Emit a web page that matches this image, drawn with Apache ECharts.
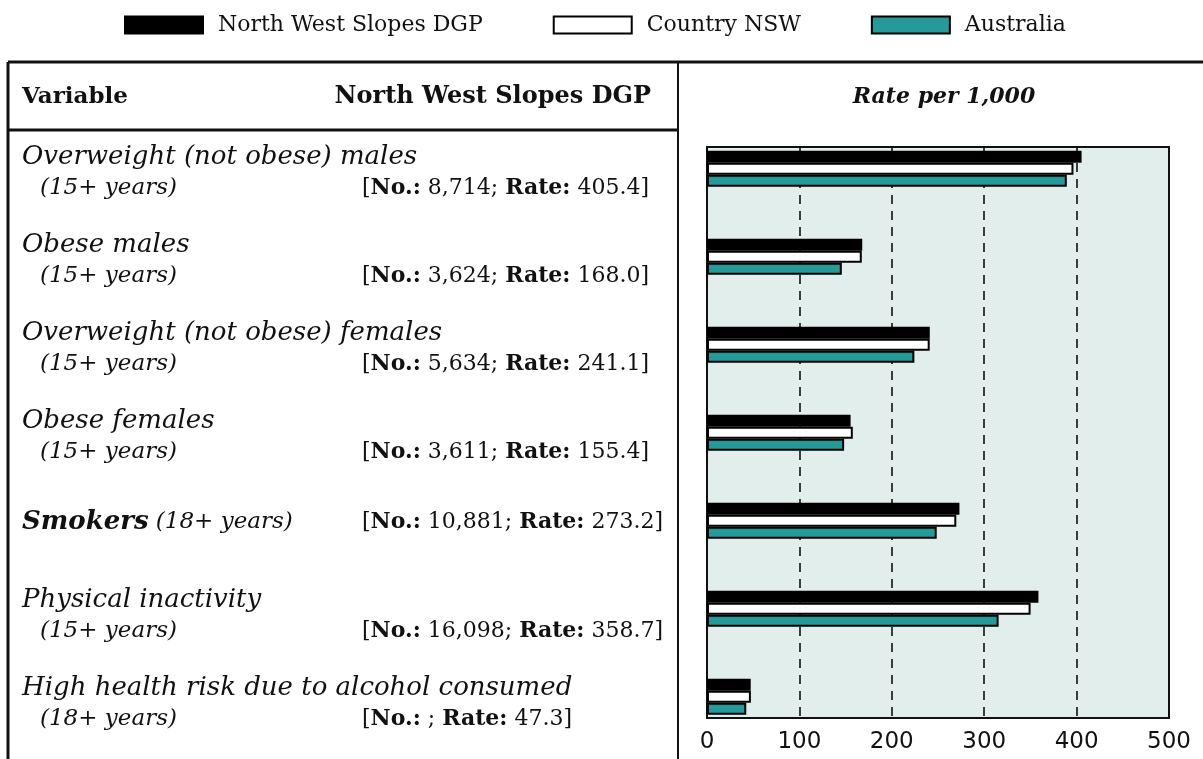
<!DOCTYPE html>
<html>
<head>
<meta charset="utf-8">
<title>Risk factors - North West Slopes DGP</title>
<script src="https://cdn.jsdelivr.net/npm/echarts@6/dist/echarts.min.js"></script>
<style>
  html, body { margin: 0; padding: 0; background: #fff; }
  #chart { width: 1203px; height: 759px; }
</style>
</head>
<body>
<div id="chart"></div>
<script>
// data
const variables = [
  'Overweight (not obese) males',
  'Obese males',
  'Overweight (not obese) females',
  'Obese females',
  'Smokers',
  'Physical inactivity',
  'High health risk due to alcohol consumed'
];
const ageGroups = ['(15+ years)', '(15+ years)', '(15+ years)', '(15+ years)', '(18+ years)', '(15+ years)', '(18+ years)'];
const counts = ['8,714', '3,624', '5,634', '3,611', '10,881', '16,098', ''];
const seriesNames = ['North West Slopes DGP', 'Country NSW', 'Australia'];
const northWestSlopes = [405.4, 168.0, 241.1, 155.4, 273.2, 358.7, 47.3];
const countryNSW = [396.6, 167.5, 241.0, 157.8, 269.8, 350.2, 47.5];
const australia = [389.4, 145.9, 224.4, 148.4, 248.6, 315.6, 42.5];
const xTicks = [0, 100, 200, 300, 400, 500];

const serif = '"DejaVu Serif", serif';
const ink = '#111';

// row layout of the table on the left
const nameY = [157, 245, 333, 421, 522, 600, 688];
const subY = [188, 276, 364, 452, 522, 631, 719];

const graphics = [];
// table lines
const line = (x1, y1, x2, y2, w) => graphics.push({
  type: 'line', shape: { x1, y1, x2, y2 }, style: { stroke: ink, lineWidth: w }, z: 10
});
line(8, 62, 1203, 62, 3);
line(8, 62, 8, 759, 3);
line(8, 130, 678, 130, 3);
line(678, 62, 678, 759, 2);

// headers
graphics.push({ type: 'text', x: 22, y: 97, style: { text: 'Variable', font: 'bold 23px ' + serif, fill: ink, verticalAlign: 'middle' } });
graphics.push({ type: 'text', x: 651, y: 97, style: { text: 'North West Slopes DGP', font: 'bold 24px ' + serif, fill: ink, align: 'right', verticalAlign: 'middle' } });
graphics.push({ type: 'text', x: 944, y: 97, style: { text: 'Rate per 1,000', font: 'italic bold 22px ' + serif, fill: ink, align: 'center', verticalAlign: 'middle' } });

const richBits = {
  n: { font: '22px ' + serif, fill: ink },
  b: { font: 'bold 22px ' + serif, fill: ink },
  nb: { font: 'italic bold 26px ' + serif, fill: ink },
  ag: { font: 'italic 23px ' + serif, fill: ink }
};

variables.forEach((v, i) => {
  if (v === 'Smokers') {
    graphics.push({ type: 'text', x: 22, y: nameY[i], style: {
      text: '{nb|' + v + '}{ag| ' + ageGroups[i] + '}', rich: richBits, verticalAlign: 'middle' } });
  } else {
    graphics.push({ type: 'text', x: 22, y: nameY[i], style: {
      text: v, font: 'italic 26px ' + serif, fill: ink, verticalAlign: 'middle' } });
    graphics.push({ type: 'text', x: 40, y: subY[i], style: {
      text: ageGroups[i], font: 'italic 23px ' + serif, fill: ink, verticalAlign: 'middle' } });
  }
  graphics.push({ type: 'text', x: 362, y: subY[i], style: {
    text: '{n|[}{b|No.:}{n| ' + counts[i] + '; }{b|Rate:}{n| ' + northWestSlopes[i].toFixed(1) + ']}',
    rich: richBits, verticalAlign: 'middle' } });
});

const barStyle = (color) => ({ color: color, borderColor: '#000', borderWidth: 2 });

const option = {
  animation: false,
  backgroundColor: '#fff',
  legend: {
    top: 9,
    left: 119,
    icon: 'rect',
    itemWidth: 78,
    itemHeight: 17,
    itemGap: 70,
    data: seriesNames,
    textStyle: { fontFamily: serif, fontSize: 22, color: ink, padding: [0, 0, 0, 10] }
  },
  grid: [
    // frame, dashed lines and tick labels
    { left: 707, width: 462, top: 147, height: 571, show: true,
      backgroundColor: '#e2eeeb', borderColor: ink, borderWidth: 2 },
    // bars
    { left: 707, width: 462, top: 124.7, height: 616, show: false }
  ],
  xAxis: [
    { gridIndex: 0, type: 'value', min: xTicks[0], max: xTicks[xTicks.length - 1], interval: xTicks[1] - xTicks[0],
      axisLine: { show: false }, axisTick: { show: false },
      axisLabel: { fontFamily: '"DejaVu Sans", sans-serif', fontSize: 23, color: ink, margin: 13 },
      splitLine: { show: true, lineStyle: { color: '#111', width: 1.6, type: [9, 7] } } },
    { gridIndex: 1, type: 'value', min: xTicks[0], max: xTicks[xTicks.length - 1], show: false }
  ],
  yAxis: [
    { gridIndex: 0, type: 'category', data: variables, show: false },
    { gridIndex: 1, type: 'category', data: variables, inverse: true, show: false }
  ],
  series: [
    { name: seriesNames[0], type: 'bar', xAxisIndex: 1, yAxisIndex: 1, data: northWestSlopes,
      barWidth: 12, barGap: '0%', itemStyle: barStyle('#000') },
    { name: seriesNames[1], type: 'bar', xAxisIndex: 1, yAxisIndex: 1, data: countryNSW,
      barWidth: 12, barGap: '0%', itemStyle: barStyle('#fff') },
    { name: seriesNames[2], type: 'bar', xAxisIndex: 1, yAxisIndex: 1, data: australia,
      barWidth: 12, barGap: '0%', itemStyle: barStyle('#259a99') }
  ],
  graphic: graphics
};

const myChart = echarts.init(document.getElementById('chart'));
myChart.setOption(option);
window.addEventListener('load', () => myChart.resize());
</script>
</body>
</html>
